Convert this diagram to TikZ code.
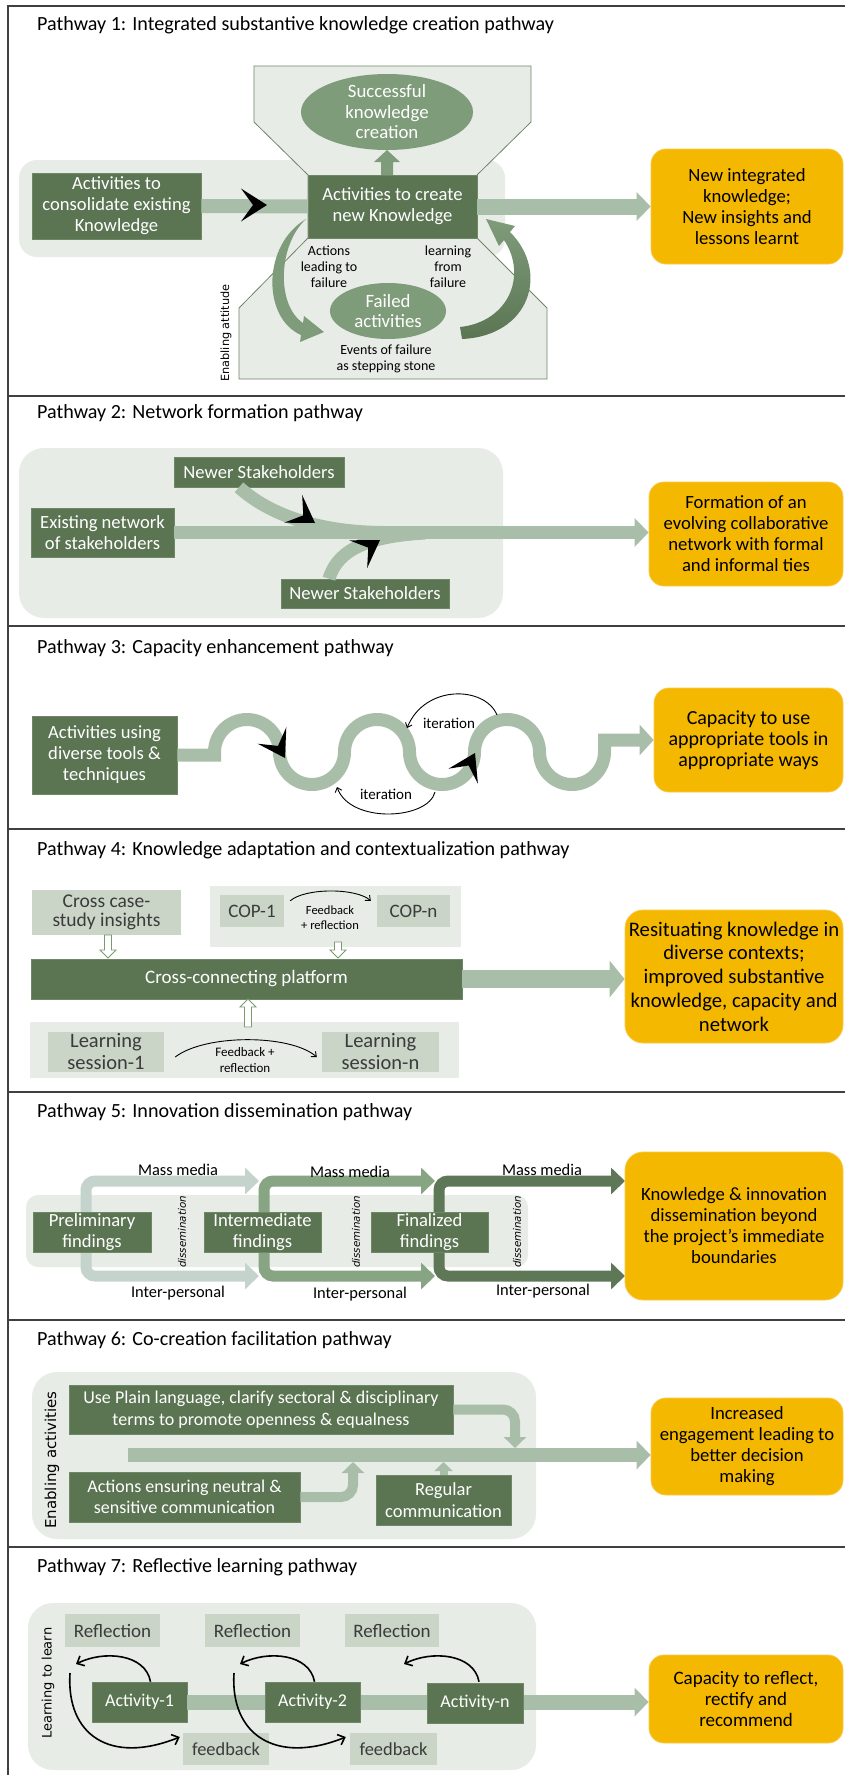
\documentclass[tikz,border=0pt]{standalone}
\usepackage{fontspec}
\setmainfont{Carlito}
\newfontfamily\dvsans{DejaVu Sans}
\usetikzlibrary{arrows.meta,calc}

\definecolor{dkg}{HTML}{5B7553}
\definecolor{dkgline}{HTML}{6E8767}
\definecolor{bandc}{HTML}{A9BEA8}
\definecolor{lbg}{HTML}{E8ECE7}
\definecolor{medg}{HTML}{7F9C7A}
\definecolor{orng}{HTML}{F5B800}
\definecolor{orngline}{HTML}{F8C94A}
\definecolor{lbox}{HTML}{CAD4C7}
\definecolor{txtg}{HTML}{3B3B3B}
\definecolor{stA}{HTML}{C5D3CD}
\definecolor{stB}{HTML}{87A483}
\definecolor{stC}{HTML}{5D7757}
\definecolor{hgline}{HTML}{6F866B}
\definecolor{holc}{HTML}{7A9A72}

\newcommand\fsz[2]{\fontsize{#1}{#2}\selectfont}

\tikzset{
  chev/.pic={\fill[black] (0,0) -- (-26,-16.5) -- (-14,0) -- (-26,16.5) -- cycle;},
}

\begin{document}
\begin{tikzpicture}[x=1pt, y=-1pt,
  frameline/.style={draw=black!75, line width=1.3pt},
  ttl/.style={anchor=west, font=\fsz{20.1}{24}, inner sep=0pt},
  dkbox/.style={fill=dkg, draw=dkgline, line width=0.6pt, text=white, align=center, inner sep=0pt, font=\fsz{18.6}{21}},
  ltbox/.style={fill=lbox, text=txtg, align=center, inner sep=0pt, font=\fsz{19}{20}},
  goal/.style={fill=orng, draw=orngline, line width=0.8pt, rounded corners=15pt, align=center, inner sep=0pt, text=black, font=\fsz{18.7}{21}},
  ell/.style={text=white, align=center, inner sep=0pt, font=\fsz{18.8}{20.5}},
  note/.style={align=center, inner sep=0pt, text=black, font=\fsz{14}{16}},
  vlabel/.style={rotate=90, inner sep=0pt, text=black, font=\dvsans\fsz{#1}{#1}},
  band/.style={draw=bandc, line width=#1},
  bandarrow/.style={draw=bandc, line width=#1, -{Triangle[length=14pt,width=28pt]}},
  bentarrow/.style={draw=bandc, line width=10pt, rounded corners=12pt, -{Triangle[length=11pt,width=22pt]}},
  thinarc/.style={draw=black, line width=0.9pt, -{Straight Barb[length=4pt,width=7pt]}},
  loopy/.style={draw=black, line width=1.6pt, -{Straight Barb[length=6pt,width=11pt]}},
  hollow/.style={fill=white, draw=holc, line width=0.9pt},
]
\useasboundingbox (0,0) rectangle (845,1775);
\fill[white] (0,0) rectangle (845,1775);

% frame and panel separators
\draw[frameline] (8,1775) -- (8,6) -- (845,6);
\foreach \yy in {396,626,829,1092,1320,1547} \draw[frameline] (8,\yy) -- (845,\yy);

% ================= Pathway 1
\node[ttl] (t1) at (37,25) {Pathway 1: Integrated substantive knowledge creation pathway};
\fill[lbg, rounded corners=18pt] (19,160) rectangle (505,257);
\filldraw[fill=lbg, draw=hgline, line width=0.8pt] (254,66) -- (531,66) -- (531,122) -- (477,175) -- (477,238) -- (547,308) -- (547,379) -- (239,379) -- (239,308) -- (308,238) -- (308,175) -- (254,122) -- cycle;
\fill[medg] (387,112) ellipse [x radius=86, y radius=38];
\node[ell] (succ) at (387,112) {Successful\\knowledge\\creation};
\fill[medg] (381,175) -- (381,162) -- (374,162) -- (387,150) -- (400,162) -- (393,162) -- (393,175) -- cycle;
\fill[medg] (388,311) ellipse [x radius=58, y radius=28];
\node[ell] (fail) at (388,311) {Failed\\activities};
% curved arrows around the failure loop
\fill[medg] (306,219) .. controls (262,245) and (262,318) .. (301,335) -- (300,342) -- (324,332) -- (304,316) -- (303,323) .. controls (276,305) and (278,245) .. (306,219) -- cycle;
\shade[top color=medg, bottom color=dkg] (462,339) .. controls (530,336) and (550,272) .. (510,232) -- (515,226) -- (486,219) -- (499,246) -- (504,240) .. controls (528,276) and (508,322) .. (460,327) -- cycle;
\node[dkbox, minimum width=169pt, minimum height=66pt] (lbx) at (116.5,206) {Activities to\\consolidate existing\\Knowledge};
\node[dkbox, minimum width=169pt, minimum height=63pt] (cbox) at (392.5,206.5) {Activities to create\\new Knowledge};
\draw[band=14pt] (lbx.east) -- (cbox.west);
\pic at (267,205) {chev};
\node[goal, minimum width=192pt, minimum height=115pt] (o1) at (747,206.5) {New integrated\\knowledge;\\New insights and\\lessons learnt};
\draw[bandarrow=16pt] (cbox.east) -- (cbox.east -| o1.west);
\node[note] (n1) at (329,267) {Actions\\leading to\\failure};
\node[note] (n2) at (448,267) {learning\\from\\failure};
\node[note] (n3) at (386,359) {Events of failure\\as stepping stone};
\node[vlabel=11.3] (n4) at (226,333) {Enabling attitude};

% ================= Pathway 2
\node[ttl] (t2) at (37,413) {Pathway 2: Network formation pathway};
\fill[lbg, rounded corners=25pt] (19,448) rectangle (503,618);
\node[dkbox, minimum width=170pt, minimum height=30pt] (ns1) at (259,472) {Newer Stakeholders};
\node[dkbox, minimum width=143pt, minimum height=49pt] (ex) at (102.5,532.5) {Existing network\\of stakeholders};
\node[dkbox, minimum width=168pt, minimum height=29pt] (ns2) at (365,593.5) {Newer Stakeholders};
\draw[band=13pt] ($(ns1.south)+(-20,0)$) .. controls +(31,28) and +(-65,0) .. (385,532.5);
\draw[band=13pt] ($(ns2.north)+(-36,0)$) .. controls +(9,-31) and +(-53,3) .. (425,533);
\node[goal, minimum width=194pt, minimum height=104pt] (o2) at (746,534) {Formation of an\\evolving collaborative\\network with formal\\and informal ties};
\draw[bandarrow=13pt] (ex.east) -- (ex.east -| o2.west);
\pic[rotate=-33] at (315,523) {chev};
\pic[rotate=33] at (380,540) {chev};

% ================= Pathway 3
\node[ttl] (t3) at (37,648) {Pathway 3: Capacity enhancement pathway};
\node[dkbox, minimum width=145pt, minimum height=78pt] (act) at (104.5,755) {Activities using\\diverse tools \&\\techniques};
\node[goal, minimum width=189pt, minimum height=104pt, font=\fsz{20}{20.8}] (o3) at (748.5,740) {Capacity to use\\appropriate tools in\\appropriate ways};
\draw[draw=bandc, line width=13pt, -{Triangle[length=14pt,width=30pt]}] (act.east) -- (214.5,755) -- (214.5,752)
  arc[start angle=180, end angle=360, radius=32.5]
  arc[start angle=180, end angle=0, radius=32.5]
  arc[start angle=180, end angle=360, radius=32.5]
  arc[start angle=180, end angle=0, radius=32.5]
  arc[start angle=180, end angle=360, radius=32.5]
  arc[start angle=180, end angle=0, radius=32.5]
  -- (604.5,740) -- (o3.west);
\pic[rotate=-60] at (285,758) {chev};
\pic[rotate=63] at (475,753) {chev};
\coordinate (it1s) at (497,715);
\coordinate (it1e) at (407,728);
\draw[thinarc] (it1s) .. controls (485,686) and (425,684) .. (it1e);
\node[note, font=\fsz{15}{17}] (it1) at (449,723) {iteration};
\coordinate (it2s) at (435,792);
\coordinate (it2e) at (337,787);
\draw[thinarc] (it2s) .. controls (428,820) and (350,824) .. (it2e);
\node[note, font=\fsz{15}{17}] (it2) at (386,794) {iteration};

% ================= Pathway 4
\node[ttl] (t4) at (37,850) {Pathway 4: Knowledge adaptation and contextualization pathway};
\fill[lbg] (210,886) rectangle (461,947);
\fill[lbg] (30,1022) rectangle (459,1078);
\node[ltbox, minimum width=149pt, minimum height=45pt, font=\fsz{19.5}{19}] (ccs) at (106.5,912.5) {Cross case-\\study insights};
\node[ltbox, minimum width=64pt, minimum height=32pt] (cop1) at (252,911) {COP-1};
\node[ltbox, minimum width=73pt, minimum height=32pt] (copn) at (413.5,911) {COP-n};
\draw[thinarc] ($(cop1.north east)+(6,6)$) .. controls +(15,-13) and +(-15,-13) .. ($(copn.north west)+(-6,6)$);
\node[note, font=\fsz{12.5}{15}] (fb1) at (330,917.5) {Feedback\\+ reflection};
\node[ltbox, minimum width=116pt, minimum height=40pt, font=\fsz{20.5}{22}] (ls1) at (106,1052) {Learning\\session-1};
\node[ltbox, minimum width=117pt, minimum height=40pt, font=\fsz{20.5}{22}] (lsn) at (380.5,1052) {Learning\\session-n};
\draw[thinarc] ($(ls1.east)+(11,5)$) .. controls +(30,-23) and +(-27,-23) .. ($(lsn.west)+(-5,5)$);
\node[note, font=\fsz{13}{16}] (fb2) at (245,1060) {Feedback +\\reflection};
\node[dkbox, minimum width=431pt, minimum height=40pt, font=\fsz{19}{21}] (plat) at (246.5,979) {Cross-connecting platform};
\filldraw[hollow] (104.5,935) -- (111.5,935) -- (111.5,950) -- (116,950) -- (108,958) -- (100,950) -- (104.5,950) -- cycle;
\filldraw[hollow] (334.5,942) -- (341.5,942) -- (341.5,950) -- (346,950) -- (338,958) -- (330,950) -- (334.5,950) -- cycle;
\filldraw[hollow] (244.5,1027) -- (251.5,1027) -- (251.5,1007) -- (256,1007) -- (248,999) -- (240,1007) -- (244.5,1007) -- cycle;
\node[goal, rounded corners=18pt, minimum width=218pt, minimum height=133pt, font=\fsz{20.7}{23.7}] (o4) at (734,976.5) {Resituating knowledge in\\diverse contexts;\\improved substantive\\knowledge, capacity and\\network};
\draw[draw=bandc, line width=18pt, -{Triangle[length=15pt,width=36pt]}] (plat.east) -- (plat.east -| o4.west);

% ================= Pathway 5
\node[ttl] (t5) at (37,1112) {Pathway 5: Innovation dissemination pathway};
\fill[lbg, rounded corners=12pt] (26,1195) rectangle (528,1267);
\foreach \xv/\xt/\cc in {86/259/stA, 264/435/stB, 439/625/stC}
  \draw[draw=\cc, line width=11pt, rounded corners=9pt, {Triangle[length=14pt,width=26pt]}-{Triangle[length=14pt,width=26pt]}] (\xt,1181) -- (\xv,1181) -- (\xv,1276) -- (\xt,1276);
\node[dkbox, minimum width=118pt, minimum height=40pt] (pre) at (92,1232) {Preliminary\\findings};
\node[dkbox, minimum width=117pt, minimum height=40pt] (int) at (262.5,1232) {Intermediate\\findings};
\node[dkbox, minimum width=117pt, minimum height=40pt] (fin) at (429.5,1232) {Finalized\\findings};
\node[note, font=\fsz{16.4}{18}] (mm1) at (178,1170) {Mass media};
\node[note, font=\fsz{16.4}{18}] (mm2) at (350,1172) {Mass media};
\node[note, font=\fsz{16.4}{18}] (mm3) at (542,1170) {Mass media};
\node[note, font=\fsz{16.4}{18}] (ip1) at (178,1293) {Inter-personal};
\node[note, font=\fsz{16.4}{18}] (ip2) at (360,1294) {Inter-personal};
\node[note, font=\fsz{16.4}{18}] (ip3) at (543,1291) {Inter-personal};
\node[rotate=90, inner sep=0pt, font=\dvsans\itshape\fsz{10.3}{11}] (d1) at (182,1232) {dissemination};
\node[rotate=90, inner sep=0pt, font=\dvsans\itshape\fsz{10.3}{11}] (d2) at (356,1232) {dissemination};
\node[rotate=90, inner sep=0pt, font=\dvsans\itshape\fsz{10.3}{11}] (d3) at (517,1232) {dissemination};
\node[goal, rounded corners=18pt, minimum width=218pt, minimum height=148pt] (o5) at (734,1226) {Knowledge \& innovation\\dissemination beyond\\the project’s immediate\\boundaries};

% ================= Pathway 6
\node[ttl] (t6) at (37,1340) {Pathway 6: Co-creation facilitation pathway};
\fill[lbg, rounded corners=25pt] (32,1372) rectangle (536,1539);
\node[vlabel=15] (ea) at (52,1460) {Enabling activities};
\coordinate (s6) at (128,1455);
\node[goal, minimum width=192pt, minimum height=97pt] (o6) at (747,1446.5) {Increased\\engagement leading to\\better decision\\making};
\draw[bandarrow=14pt] (s6) -- (s6 -| o6.west);
\node[dkbox, minimum width=384pt, minimum height=49pt, font=\fsz{18}{21.5}] (plain) at (261,1409.5) {Use Plain language, clarify sectoral \& disciplinary\\terms to promote openness \& equalness};
\node[dkbox, minimum width=231pt, minimum height=50pt, font=\fsz{18}{21.5}] (neut) at (184.5,1497) {Actions ensuring neutral \&\\sensitive communication};
\node[dkbox, minimum width=135pt, minimum height=50pt, font=\fsz{18.5}{21.5}] (reg) at (443.5,1500) {Regular\\communication};
\draw[bentarrow] (plain.east) -- (515,1409.5) -- (515,1448);
\draw[bentarrow] (neut.east) -- (353,1497) -- (353,1462);
\draw[draw=bandc, line width=8pt, -{Triangle[length=9pt,width=18pt]}] (reg.north) -- (443.5,1462);

% ================= Pathway 7
\node[ttl] (t7) at (37,1567) {Pathway 7: Reflective learning pathway};
\fill[lbg, rounded corners=25pt] (28,1603) rectangle (536,1770);
\node[vlabel=13] (ll) at (48,1683) {Learning to learn};
\node[goal, minimum width=194pt, minimum height=88pt, font=\fsz{19}{21}] (o7) at (746,1699) {Capacity to reflect,\\rectify and\\recommend};
\node[dkbox, minimum width=95pt, minimum height=40pt, font=\fsz{18}{21}] (a1) at (139.5,1702) {Activity-1};
\draw[draw=bandc, line width=15pt, -{Triangle[length=14pt,width=28pt]}] (a1.east) -- (a1.east -| o7.west);
\node[dkbox, minimum width=95pt, minimum height=40pt, font=\fsz{18}{21}] (a2) at (312.5,1702) {Activity-2};
\node[dkbox, minimum width=96pt, minimum height=40pt, font=\fsz{18}{21}] (an) at (475,1703) {Activity-n};
\node[ltbox, minimum width=95pt, minimum height=33pt] (r1) at (112.5,1630.5) {Reflection};
\node[ltbox, minimum width=95pt, minimum height=33pt] (r2) at (252.5,1630.5) {Reflection};
\node[ltbox, minimum width=94pt, minimum height=33pt] (r3) at (392,1630.5) {Reflection};
\node[ltbox, minimum width=86pt, minimum height=32pt, font=\fsz{18.4}{21}] (f1) at (226,1749) {feedback};
\node[ltbox, minimum width=87pt, minimum height=32pt, font=\fsz{18.4}{21}] (f2) at (393.5,1749) {feedback};
\draw[loopy] ($(a1.north)+(11,0)$) .. controls +(-5,-28) and +(28,-14) .. (76,1664);
\draw[loopy] ($(a2.north)+(2,0)$) .. controls +(-5,-28) and +(28,-14) .. (240,1664);
\draw[loopy] ($(an.north)+(4,-1)$) .. controls +(-5,-28) and +(28,-14) .. (404,1664);
\draw[loopy] (70,1673) .. controls (66,1735) and (110,1765) .. ($(f1.west)+(-3,-12)$);
\draw[loopy] (234,1673) .. controls (230,1735) and (276,1765) .. ($(f2.west)+(-4,-12)$);

\end{tikzpicture}
\end{document}
